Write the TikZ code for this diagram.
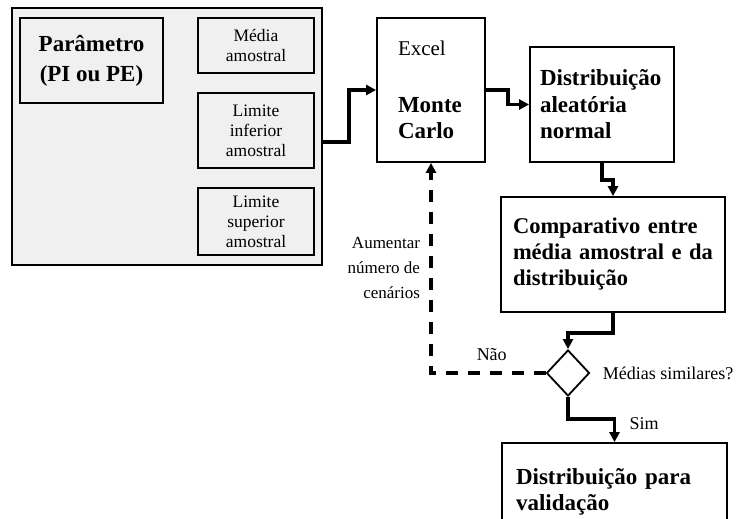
\documentclass[tikz,border=0pt]{standalone}
\usepackage{fontspec}
\setmainfont{Liberation Serif}
\usetikzlibrary{positioning,shapes.geometric,arrows.meta}

\begin{document}
\begin{tikzpicture}[x=1pt,y=-1pt,
	caixa/.style={draw, line width=1.8pt, inner sep=0pt, align=center},
	cinza/.style={caixa, fill=black!6, font=\fontsize{17.5}{20}\selectfont},
	negrito/.style={caixa, align=left, inner xsep=14pt, font=\bfseries\fontsize{23}{26.5}\selectfont},
	seta/.style={line width=3.4pt, -{Triangle[length=10pt,width=10pt]}},
	tracejada/.style={seta, dash pattern=on 12pt off 10pt},
	rotulo/.style={font=\fontsize{18}{25}\selectfont}]
	
	\clip (0,0) rectangle (736,519);
	
	\node[cinza, minimum width=310, minimum height=257] (painel) at (167,136.5) {};
	\node[cinza, minimum width=143, minimum height=85, font=\bfseries\fontsize{23}{30}\selectfont] (param) at (91.5,60.5) {Parâmetro\\(PI ou PE)};
	\node[cinza, minimum width=116, minimum height=55] (media) at (256,45.5) {Média\\amostral};
	\node[cinza, minimum width=116, minimum height=75] (linf) at (256,130.5) {Limite\\inferior\\amostral};
	\node[cinza, minimum width=116, minimum height=67] (lsup) at (256,221.5) {Limite\\superior\\amostral};
	
	\node[negrito, text width=66, inner xsep=21, minimum height=144] (mc) at (431,90) {{\mdseries\fontsize{21}{26}\selectfont Excel}\\[30pt]Monte\\Carlo};
	\node[negrito, text width=124, inner xsep=10, minimum height=115] (dist) at (602,104.5) {Distribuição\\aleatória\\normal};
	\node[negrito, text width=200, inner xsep=12, minimum height=115, font=\bfseries\fontsize{22.5}{26}\selectfont] (comp) at (613,254.5) {Comparativo entre\\média amostral e da\\distribuição};
	\node[draw, diamond, line width=1.8pt, minimum width=43, minimum height=46, inner sep=0pt] (decisao) at (568,373) {};
	\node[rotulo, right=9pt of decisao] (pergunta) {Médias similares?};
	\node[negrito, text width=197, minimum height=98] (final) at (614.5,492) {Distribuição para\\validação};
	
	\draw[seta] ([yshift=-5.5pt]painel.east) -- ++(26,0) |- (mc.west);
	\draw[seta] (mc.east) -- ++(22,0) |- (dist.west);
	\draw[seta] (dist.south) -- ++(0,17) -| (comp.north);
	\draw[seta] (comp.south) -- ++(0,20) -| (decisao.north);
	\draw[seta] (decisao.south) -- ++(0,22) -| (final.north) node[rotulo, pos=0.6, right=10pt]{Sim};
	\draw[tracejada] (decisao.west) -| (mc.south) node[rotulo, pos=0.235, above=7pt]{Não} node[rotulo, pos=0.75, left=6pt, align=right, font=\fontsize{17}{25}\selectfont]{Aumentar\\número de\\cenários};
	
\end{tikzpicture}
\end{document}
